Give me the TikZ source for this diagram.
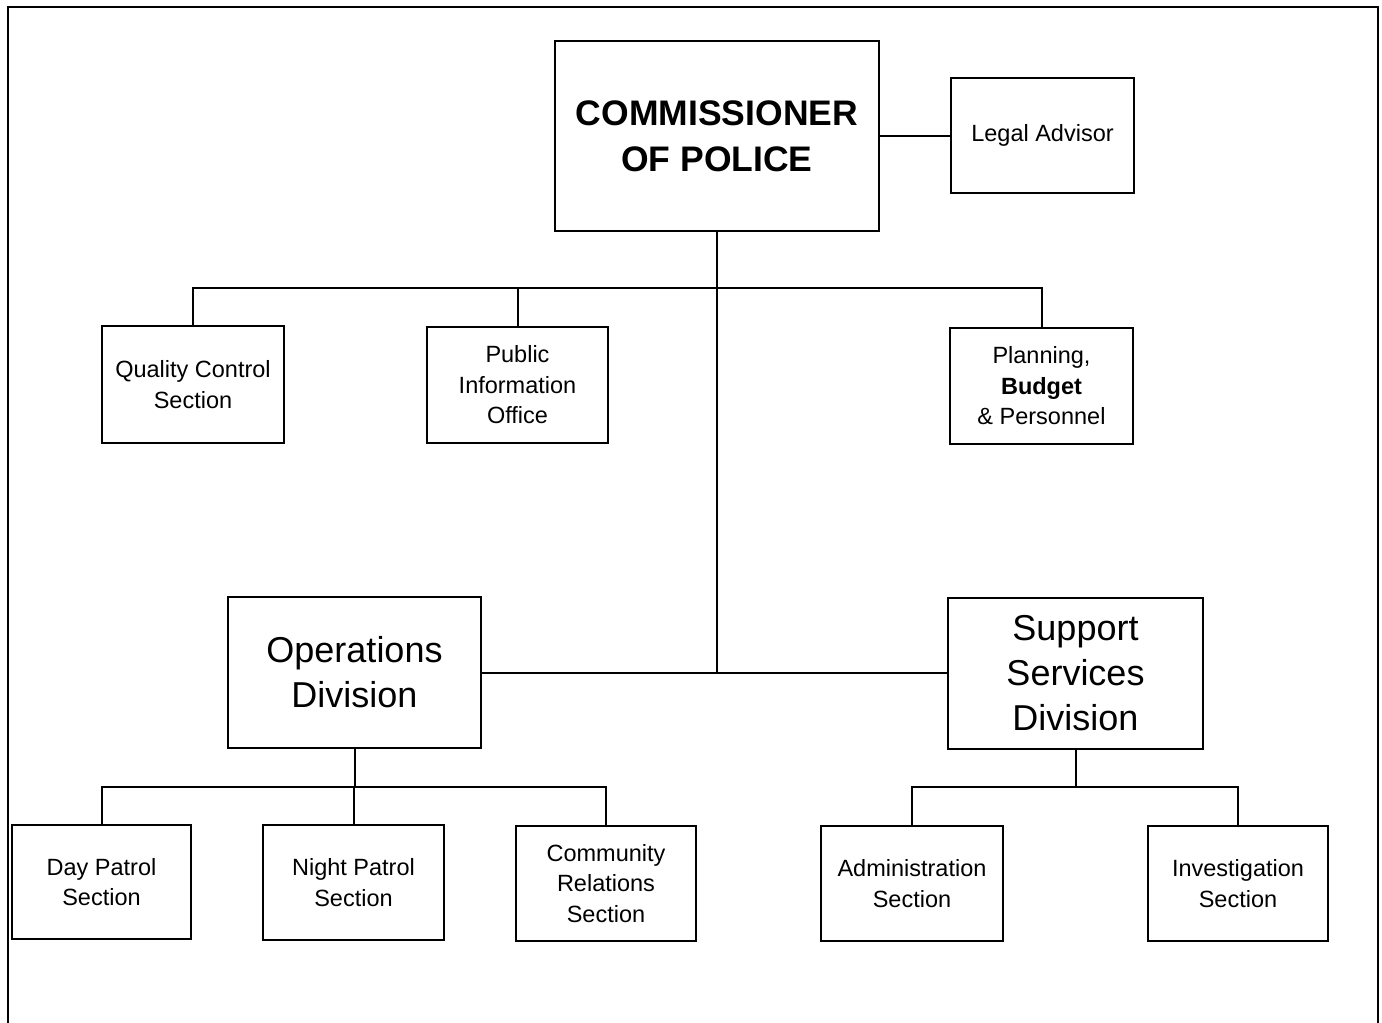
\documentclass[tikz,border=0pt]{standalone}
\usepackage{fontspec}
\setmainfont{Liberation Sans}
\begin{document}
\begin{tikzpicture}[x=1pt,y=-1pt,
  box/.style={draw=black,line width=2pt,rectangle,inner sep=0pt,align=center,
    font=\fontsize{23.5}{30.5}\selectfont},
  bigbox/.style={box,font=\fontsize{36}{45}\selectfont},
  link/.style={draw=black,line width=2pt}]
\useasboundingbox (0,0) rectangle (1382,1023);
\draw[line width=2.5pt] (8,1030) -- (8,7) -- (1378,7) -- (1378,1030);
% top level
\node[box,minimum width=324pt,minimum height=190pt,font=\bfseries\fontsize{35.5}{46}\selectfont] (comm) at (717,136) {COMMISSIONER\\OF POLICE};
\node[box,minimum width=183pt,minimum height=115pt] (legal) at (1042.5,135.5) {Legal Advisor};
% staff units
\node[box,minimum width=182pt,minimum height=117pt] (qc) at (193,384.5) {Quality Control\\Section};
\node[box,minimum width=181pt,minimum height=116pt] (pio) at (517.5,385) {Public\\Information\\Office};
\node[box,minimum width=183pt,minimum height=116pt] (plan) at (1041.5,386) {Planning,\\\textbf{Budget}\\\& Personnel};
% divisions
\node[bigbox,minimum width=253pt,minimum height=151pt] (ops) at (354.5,672.5) {Operations\\Division};
\node[bigbox,minimum width=255pt,minimum height=151pt] (sup) at (1075.5,673.5) {Support\\Services\\Division};
% sections
\node[box,minimum width=179pt,minimum height=114pt] (day) at (101.5,882) {Day Patrol\\Section};
\node[box,minimum width=181pt,minimum height=115pt] (night) at (353.5,882.5) {Night Patrol\\Section};
\node[box,minimum width=180pt,minimum height=115pt] (cr) at (606,883.5) {Community\\Relations\\Section};
\node[box,minimum width=182pt,minimum height=115pt] (admin) at (912,883.5) {Administration\\Section};
\node[box,minimum width=180pt,minimum height=115pt] (inv) at (1238,883.5) {Investigation\\Section};
% bus coordinates
\coordinate (bus1) at (0,288);
\coordinate (bus2) at (0,787);
% connectors
\draw[link] (comm.east) -- (legal.west |- comm.east);
\draw[link] (comm.south) -- (comm.south |- ops.east);
\draw[link] (ops.east) -- (sup.west |- ops.east);
\draw[link] (qc.north) -- (qc.north |- bus1) -- (plan.north |- bus1) -- (plan.north);
\draw[link] (pio.north) -- (pio.north |- bus1);
\draw[link] (ops.south) -- (ops.south |- bus2);
\draw[link] (day.north) -- (day.north |- bus2) -- (cr.north |- bus2) -- (cr.north);
\draw[link] (night.north) -- (night.north |- bus2);
\draw[link] (sup.south) -- (sup.south |- bus2);
\draw[link] (admin.north) -- (admin.north |- bus2) -- (inv.north |- bus2) -- (inv.north);
\end{tikzpicture}
\end{document}
